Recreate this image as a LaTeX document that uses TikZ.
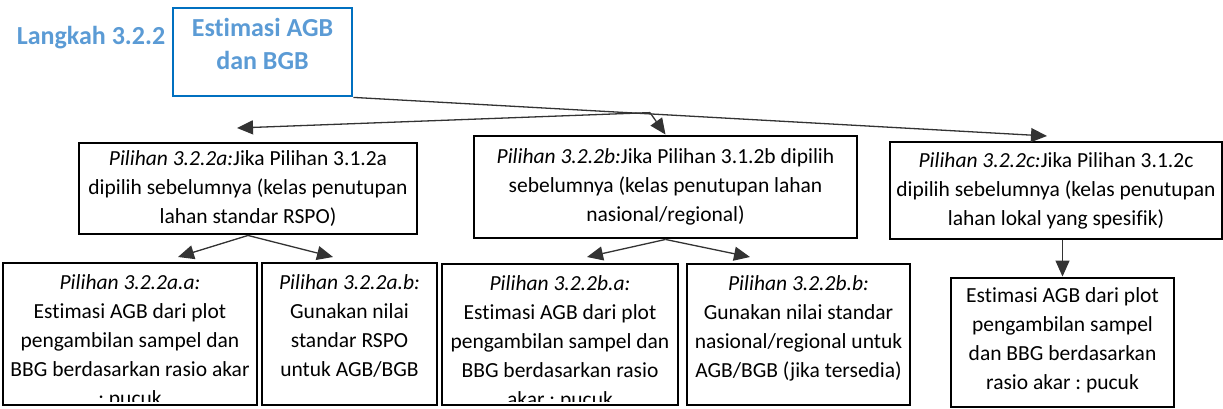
\documentclass[tikz,border=0pt]{standalone}
\usepackage{fontspec}
\setmainfont{Carlito}[Ligatures=NoCommon]
\frenchspacing
\usetikzlibrary{arrows.meta}
\definecolor{stepblue}{HTML}{5B9BD5}
\definecolor{frameblue}{HTML}{0070C0}
\tikzset{
  box/.style={draw,line width=2.9pt,inner sep=0pt,align=center,font=\fontsize{21.5}{29}\selectfont},
  txt/.style={align=center,inner sep=0pt,font=\fontsize{21.5}{29}\selectfont},
  conn/.style={draw=black!80,line width=1.3pt,-{Triangle[length=16pt,width=14pt]}},
}
\begin{document}
\begin{tikzpicture}[x=1pt,y=-1pt]
\useasboundingbox (0,0) rectangle (1223,408);
\clip (0,0) rectangle (1223,408);
\node[font=\fontsize{26}{33}\selectfont\bfseries,text=stepblue] (step) at (91,38) {Langkah 3.2.2};
\node[draw=frameblue,line width=2.8pt,minimum width=179pt,minimum height=88pt,align=center,text depth=16pt,
  font=\fontsize{26}{33}\selectfont\bfseries,text=stepblue] (top) at (262.5,52) {Estimasi AGB\\dan BGB};
% second row
\node[box,minimum width=338pt,minimum height=91pt] (a) at (248,188.5)
  {\textit{Pilihan 3.2.2a:}Jika Pilihan 3.1.2a\\dipilih sebelumnya (kelas penutupan\\lahan standar RSPO)};
\node[box,minimum width=383pt,minimum height=102pt] (b) at (665.5,187)
  {\textit{Pilihan 3.2.2b:}Jika Pilihan 3.1.2b dipilih\\sebelumnya (kelas penutupan lahan\\nasional/regional)};
\node[box,minimum width=332pt,minimum height=97pt] (c) at (1056,190.5)
  {\textit{Pilihan 3.2.2c:}Jika Pilihan 3.1.2c\\dipilih sebelumnya (kelas penutupan\\lahan lokal yang spesifik)};
% third row
\node[box,minimum width=254pt,minimum height=142pt] (aa) at (130,334) {};
\node[box,minimum width=175pt,minimum height=142pt] (ab) at (349.5,334) {};
\node[box,minimum width=236pt,minimum height=141pt] (ba) at (560,334.5) {};
\node[box,minimum width=223pt,minimum height=141pt] (bb) at (798.5,334.5) {};
\node[box,minimum width=223pt,minimum height=129pt,text depth=8pt] (ca) at (1062.5,342.5)
  {Estimasi AGB dari plot\\pengambilan sampel\\dan BBG berdasarkan\\rasio akar : pucuk};
\begin{scope}
\clip (aa.north west) rectangle ([yshift=5pt]aa.south east);
\node[txt,anchor=north] (aatext) at ([yshift=-13pt]aa.north)
  {\textit{Pilihan 3.2.2a.a:}\\Estimasi AGB dari plot\\pengambilan sampel dan\\BBG berdasarkan rasio akar\\: pucuk};
\end{scope}
\node[txt,anchor=north] (abtext) at ([yshift=-13pt]ab.north)
  {\textit{Pilihan 3.2.2a.b:}\\Gunakan nilai\\standar RSPO\\untuk AGB/BGB};
\begin{scope}
\clip (ba.north west) rectangle ([yshift=5pt]ba.south east);
\node[txt,anchor=north] (batext) at ([yshift=-13pt]ba.north)
  {\textit{Pilihan 3.2.2b.a:}\\Estimasi AGB dari plot\\pengambilan sampel dan\\BBG berdasarkan rasio\\akar : pucuk};
\end{scope}
\node[txt,anchor=north] (bbtext) at ([yshift=-13pt]bb.north)
  {\textit{Pilihan 3.2.2b.b:}\\Gunakan nilai standar\\nasional/regional untuk\\AGB/BGB (jika tersedia)};
% arrows
\coordinate (split) at (650,112.6);
\coordinate (tipa) at (237,128);
\coordinate (tipc) at (1047,136);
\coordinate (tipaa) at (178,257);
\coordinate (tipab) at (333,257);
\coordinate (tipba) at (587,257);
\coordinate (tipbb) at (750,257);
\draw[conn] (top.south east) -- (tipc);
\draw[conn] (split) -- (tipa);
\draw[conn] (split) -- (b.north);
\draw[conn] (a.south) -- (tipaa);
\draw[conn] (a.south) -- (tipab);
\draw[conn] (b.south) -- (tipba);
\draw[conn] (b.south) -- (tipbb);
\draw[conn] (c.south -| ca.north) -- (ca.north);
\end{tikzpicture}
\end{document}
